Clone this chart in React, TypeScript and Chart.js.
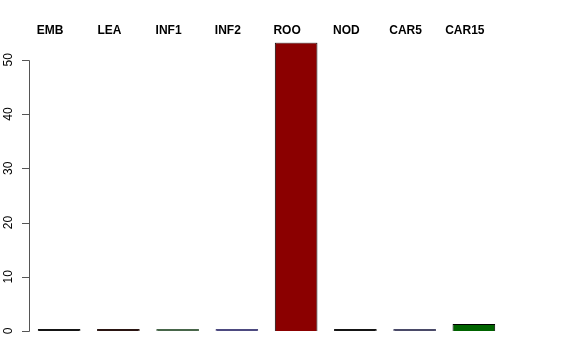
import React, { useEffect, useRef } from "react";
import { Chart, registerables } from "chart.js";

Chart.register(...registerables);

const categories = ["EMB", "LEA", "INF1", "INF2", "ROO", "NOD", "CAR5", "CAR15"];
const values = [0.35, 0.35, 0.35, 0.35, 53.2, 0.35, 0.35, 1.3];
const yTickStep = 10;

const fillColors = ["#151515", "#2a1512", "#48664a", "#4d4a80", "#8b0000", "#151515", "#4a4a68", "#006400"];
const edgeColors = ["#151515", "#2a1512", "#48664a", "#4d4a80", "#000000", "#151515", "#4a4a68", "#000000"];

const FONT = "'Liberation Sans', Arial, Helvetica, sans-serif";

const axisLinePlugin = {
  id: "rAxisLine",
  afterDraw(chart: any) {
    const y = chart.scales.y;
    const ticks = y.ticks;
    if (!ticks.length) return;
    const ctx = chart.ctx;
    const x = Math.round(y.right) - 0.5;
    const top = y.getPixelForValue(ticks[ticks.length - 1].value);
    const bottom = y.getPixelForValue(ticks[0].value);
    ctx.save();
    ctx.strokeStyle = "#555555";
    ctx.lineWidth = 1;
    ctx.beginPath();
    ctx.moveTo(x, Math.round(top) + 0.5);
    ctx.lineTo(x, Math.round(bottom) + 0.5);
    for (const t of ticks) {
      const py = Math.round(y.getPixelForValue(t.value)) + 0.5;
      ctx.moveTo(x - 7.5, py);
      ctx.lineTo(x, py);
    }
    ctx.stroke();
    ctx.restore();
  },
};

export default function App() {
  const ref = useRef<HTMLCanvasElement | null>(null);

  useEffect(() => {
    if (!ref.current) return;
    const chart = new Chart(ref.current, {
      type: "bar",
      data: {
        labels: categories,
        datasets: [
          {
            data: values,
            backgroundColor: fillColors,
            borderColor: edgeColors,
            borderWidth: 1,
            categoryPercentage: 1,
            barPercentage: 0.72,
          },
        ],
      },
      options: {
        responsive: false,
        animation: false,
        events: [],
        layout: { padding: { top: 23, right: 72.5, bottom: 29, left: 0 } },
        plugins: {
          legend: { display: false },
          tooltip: { enabled: false },
        },
        scales: {
          x: {
            position: "top",
            grid: { display: false, drawTicks: false },
            border: { display: false },
            ticks: {
              color: "#000000",
              font: { family: FONT, size: 12, weight: "bold" },
              padding: 5,
              labelOffset: -9,
              maxRotation: 0,
              minRotation: 0,
              autoSkip: false,
            },
            afterFit: (s: any) => {
              s.height = 19.5;
            },
          },
          y: {
            min: 0,
            max: Math.max(...values),
            border: { display: false },
            grid: {
              display: false,
              drawOnChartArea: false,
              drawTicks: true,
              tickLength: 7,
            },
            ticks: {
              stepSize: yTickStep,
              includeBounds: false,
              color: "#000000",
              font: { family: FONT, size: 12 },
              minRotation: 90,
              maxRotation: 90,
              crossAlign: "center",
              padding: 7.5,
            },
            afterFit: (s: any) => {
              s.width = 29.5;
            },
          },
        },
      },
      plugins: [axisLinePlugin],
    });
    return () => chart.destroy();
  }, []);

  return (
    <div style={{ position: "absolute", left: 0, top: 0, width: 576, height: 360, background: "#ffffff" }}>
      <canvas ref={ref} width={576} height={360} style={{ display: "block" }} />
    </div>
  );
}
